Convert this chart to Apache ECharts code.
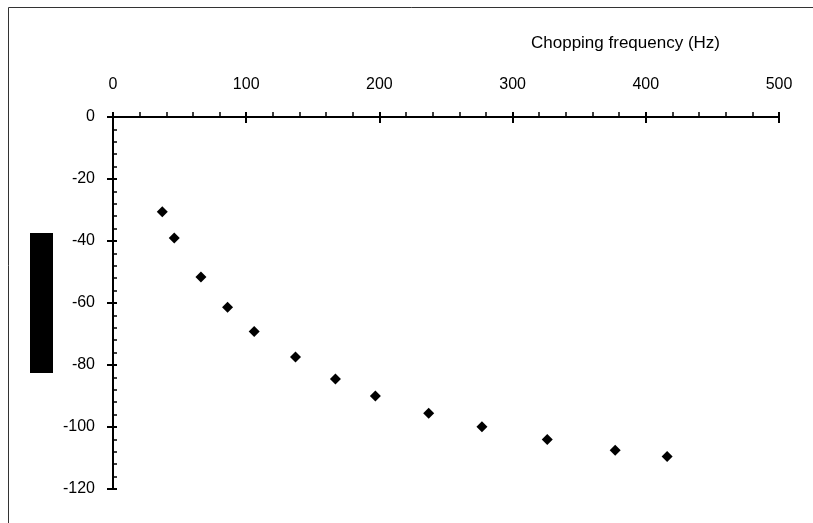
<!DOCTYPE html>
<html>
<head>
<meta charset="utf-8">
<script src="https://cdn.jsdelivr.net/npm/echarts@6/dist/echarts.min.js"></script>
<style>html,body{margin:0;padding:0;background:#fff;}#c{width:813px;height:523px;}</style>
</head>
<body>
<div id="c"></div>
<script>
var freqHz = [37, 46, 66, 86, 106, 137, 167, 197, 237, 277, 326, 377, 416];
var levels = [-30.6, -39, -51.6, -61.4, -69.2, -77.4, -84.5, -90, -95.6, -99.9, -104, -107.5, -109.5];
var xTitle = 'Chopping frequency (Hz)';

var points = freqHz.map(function (f, i) { return [f, levels[i]]; });
var chart = echarts.init(document.getElementById('c'), null, {renderer: 'canvas'});
var font = 'Arial, "Liberation Sans", sans-serif';
chart.setOption({
  animation: false,
  backgroundColor: '#fff',
  title: {
    text: xTitle, left: 526, top: 30,
    textStyle: {fontFamily: font, fontSize: 17, fontWeight: 'normal', color: '#000'}
  },
  graphic: [
    {type: 'rect', shape: {x: 8.5, y: 7.5, width: 900, height: 600}, style: {fill: null, stroke: '#333', lineWidth: 1}, z: 100},
    {type: 'rect', shape: {x: 30, y: 233, width: 23, height: 140}, style: {fill: '#000'}, z: 100}
  ],
  grid: {left: 113, top: 117, right: 34, bottom: 34},
  xAxis: [{
    type: 'value', position: 'top', min: 0, max: 500, interval: 100,
    axisLine: {lineStyle: {color: '#000', width: 2}},
    axisTick: {inside: false, length: 5, lineStyle: {color: '#000', width: 2}},
    minorTick: {show: true, splitNumber: 5, length: 5, lineStyle: {color: '#000', width: 1.5}},
    splitLine: {show: false},
    axisLabel: {margin: 24, fontFamily: font, fontSize: 16, color: '#000'}
  }, {
    type: 'value', position: 'top', min: 0, max: 500, interval: 100,
    axisLine: {show: false},
    axisTick: {inside: true, length: 6, lineStyle: {color: '#000', width: 2}},
    splitLine: {show: false},
    axisLabel: {show: false}
  }],
  yAxis: [{
    type: 'value', min: -120, max: 0, interval: 20,
    axisLine: {lineStyle: {color: '#000', width: 2}},
    axisTick: {inside: true, length: 4, lineStyle: {color: '#000', width: 2}},
    minorTick: {show: true, splitNumber: 5, length: 4, lineStyle: {color: '#000', width: 1.5}},
    splitLine: {show: false},
    axisLabel: {margin: 18, fontFamily: font, fontSize: 16, color: '#000'}
  }, {
    type: 'value', position: 'left', min: -120, max: 0, interval: 20,
    axisLine: {show: false},
    axisTick: {inside: false, length: 6, lineStyle: {color: '#000', width: 2}},
    splitLine: {show: false},
    axisLabel: {show: false}
  }],
  series: [{
    type: 'scatter', xAxisIndex: 0, yAxisIndex: 0,
    data: points, symbol: 'diamond', symbolSize: [11, 11],
    itemStyle: {color: '#000', opacity: 1}
  }]
});
</script>
</body>
</html>
